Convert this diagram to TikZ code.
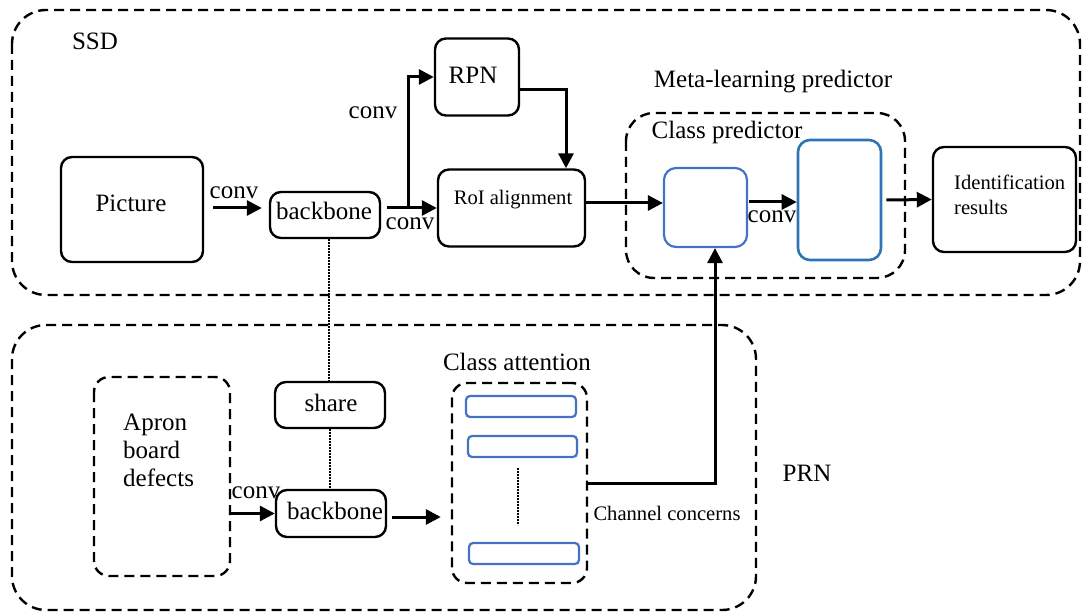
\documentclass[tikz,border=0pt]{standalone}
\usepackage{fontspec}
\setmainfont{Liberation Serif}
\usetikzlibrary{arrows.meta,calc}

\definecolor{boxblue}{HTML}{4472C4}
\definecolor{deepblue}{HTML}{2E75B6}

\tikzset{
  blk/.style={draw=black, line width=2.4pt, rounded corners=11pt, inner sep=0pt},
  blubox/.style={draw=boxblue, line width=2.2pt, rounded corners=12pt, inner sep=0pt},
  bar/.style={draw=boxblue, line width=2.2pt, rounded corners=4pt, inner sep=0pt},
  group/.style={draw=black, line width=2.4pt, dash pattern=on 10pt off 6pt, rounded corners=#1},
  group/.default=30pt,
  arr/.style={line width=3pt, -{Triangle[length=15pt,width=15pt]}},
  dotline/.style={line width=2.6pt, dash pattern=on 2pt off 1pt},
  lbl/.style={inner sep=0pt, font=\fontsize{25}{28}\selectfont},
  small/.style={inner sep=0pt, font=\fontsize{20.6}{25}\selectfont},
}

\begin{document}
\begin{tikzpicture}[x=1pt, y=-1pt]
\useasboundingbox (0,0) rectangle (1083,612);

% outer groups
\draw[group=34pt] (12,10) rectangle (1080,295);
\draw[group=34pt] (12,325) rectangle (756,610);
\node[lbl] (ssd) at (95,41) {SSD};
\node[lbl] (prn) at (807,473) {PRN};

% SSD branch
\node[blk, minimum width=142pt, minimum height=105pt] (pic) at (132,209.5) {};
\node[lbl] (pictxt) at (131,203) {Picture};
\node[blk, minimum width=110pt, minimum height=46pt] (bb1) at (325,215) {};
\node[lbl] (bb1txt) at (324,211) {backbone};
\node[blk, minimum width=84pt, minimum height=77pt] (rpn) at (477,77) {};
\node[lbl] (rpntxt) at (473,75) {RPN};
\node[blk, minimum width=147pt, minimum height=77pt] (roi) at (511.5,208) {};
\node[small] (roitxt) at (513,200) {RoI alignment};

% class predictor
\node[lbl] (meta) at (773,82) {Meta-learning predictor};
\draw[group=28pt] (626,113) rectangle (905,278);
\node[lbl] (cptxt) at (727,132) {Class predictor};
\node[blubox, minimum width=83pt, minimum height=79pt] (b1) at (705.5,207.5) {};
\node[blubox, draw=deepblue, line width=2.6pt, minimum width=83pt, minimum height=120pt] (b2) at (839.5,200) {};

\node[blk, minimum width=143pt, minimum height=105pt] (idr) at (1004.5,199.5) {};
\node[small, anchor=west, align=left] (idrtxt) at (954,194.5) {Identification\\results};

% SSD connectors
\draw[arr] ($(pic.east)+(9,-1.5)$) -- ($(pic.east -| bb1.west)+(-7,-1.5)$);
\node[lbl] (c1) at (234,193) {conv};
\draw[arr] ($(bb1.east)+(6,-7)$) -- (roi.west);
\node[lbl] (c2) at (410,224) {conv};
\draw[arr] ($(bb1.east)+(27,-7)$) |- (rpn.west);
\node[lbl] (c3) at (373,113) {conv};
\draw[arr] ($(rpn.east)+(0,13)$) -| ($(roi.north)+(54.5,0)$);
\draw[arr] ($(roi.east)+(0,-5)$) -- ($(roi.east -| b1.west)+(0,-5)$);
\draw[arr] ($(b1.east)+(1,-5.5)$) -- ($(b2.west)+(0,2)$);
\node[lbl] (c4) at (772,217) {conv};
\draw[arr] ($(b2.east)+(4,0)$) -- (idr.west);

% shared backbone
\node[blk, minimum width=110pt, minimum height=46pt] (share) at (330,405) {};
\node[lbl] (sharetxt) at (331,403) {share};
\node[blk, minimum width=110pt, minimum height=47pt] (bb2) at (331,513.5) {};
\node[lbl] (bb2txt) at (335,511) {backbone};
\draw[dotline] ($(bb1.south)+(4,0)$) -- ($(share.north)+(-1,0)$);
\draw[dotline] (share.south) -- (share.south |- bb2.north);

% PRN branch
\draw[group=15pt] (94,377) rectangle (230,576);
\node[lbl, anchor=west, align=left] (aprontxt) at (123,450)
  {\fontsize{25}{30}\selectfont Apron\\board\\defects};
\coordinate (apron) at (230,476.5);
\draw[arr] (apron |- bb2.west) -- (bb2.west);
\node[lbl] (c5) at (256,493) {conv};

\node[lbl] (catxt) at (517,362) {Class attention};
\node[draw=black, line width=2.4pt, dash pattern=on 10pt off 6pt, rounded corners=15pt,
      inner sep=0pt, minimum width=135pt, minimum height=200pt] (ca) at (519.5,483) {};
\node[bar, minimum width=110pt, minimum height=21pt] (bar1) at (521,406.5) {};
\node[bar, minimum width=109pt, minimum height=21pt] (bar2) at (522.5,446.5) {};
\node[bar, minimum width=110pt, minimum height=21pt] (bar3) at (524,553.5) {};
\coordinate (dtop) at (518,468);
\coordinate (dbot) at (518,525);
\draw[dotline] (dtop) -- (dbot);
\draw[arr] ($(bb2.east)+(5,3.5)$) -- ($(bb2.east -| ca.west)+(-10,3.5)$);
\draw[arr] (ca.east) -| ($(b1.south)+(9.5,0)$);
\node[small] (chtxt) at (667,513) {Channel concerns};
\end{tikzpicture}
\end{document}
